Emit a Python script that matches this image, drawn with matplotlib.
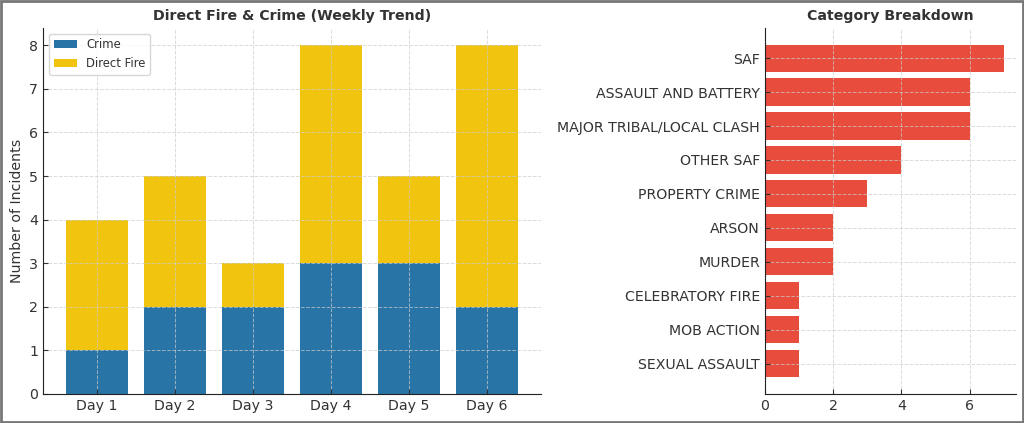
import matplotlib
matplotlib.use("Agg")
import matplotlib.pyplot as plt
from matplotlib.patches import Rectangle

days = ["Day 1", "Day 2", "Day 3", "Day 4", "Day 5", "Day 6"]
crime = [1, 2, 2, 3, 3, 2]
direct_fire = [3, 3, 1, 5, 2, 6]

categories = ["SAF", "ASSAULT AND BATTERY", "MAJOR TRIBAL/LOCAL CLASH", "OTHER SAF",
              "PROPERTY CRIME", "ARSON", "MURDER", "CELEBRATORY FIRE", "MOB ACTION",
              "SEXUAL ASSAULT"]
counts = [7, 6, 6, 4, 3, 2, 2, 1, 1, 1]

TXT = "#333333"
FS = 10.2
plt.rcParams.update({
    "font.family": "DejaVu Sans",
    "text.color": TXT,
    "axes.labelcolor": TXT,
    "xtick.color": TXT,
    "ytick.color": TXT,
    "xtick.direction": "in",
    "ytick.direction": "in",
    "axes.edgecolor": "#222222",
})

fig = plt.figure(figsize=(10.24, 4.23), dpi=100)
fig.patches.append(Rectangle((0.001, 0.002), 0.998, 0.996, transform=fig.transFigure,
                             fill=False, edgecolor="#777777", linewidth=2))

ax1 = fig.add_axes([0.042, 0.069, 0.486, 0.865])
x = list(range(len(days)))
ax1.bar(x, crime, width=0.8, color="#2874a6", label="Crime")
ax1.bar(x, direct_fire, width=0.8, bottom=crime, color="#f1c40f", label="Direct Fire")
ax1.set_xticks(x)
ax1.set_xticklabels(days, fontsize=FS)
ax1.tick_params(axis="y", labelsize=FS)
ax1.set_ylabel("Number of Incidents", fontsize=FS)
ax1.set_title("Direct Fire & Crime (Weekly Trend)", fontsize=FS, fontweight="bold", color=TXT)
ax1.set_axisbelow("line")
ax1.grid(True, linestyle="--", color="#cccccc", linewidth=0.7, alpha=0.7)
for s in ["top", "right"]:
    ax1.spines[s].set_visible(False)
ax1.legend(loc="upper left", fontsize=8.4, framealpha=0.8)

ax2 = fig.add_axes([0.747, 0.069, 0.245, 0.865])
y = list(range(len(categories)))
ax2.barh(y, counts, height=0.8, color="#e74c3c")
ax2.set_yticks(y)
ax2.set_yticklabels(categories, fontsize=FS)
ax2.invert_yaxis()
ax2.set_xticks([0, 2, 4, 6])
ax2.tick_params(axis="x", labelsize=FS)
ax2.set_title("Category Breakdown", fontsize=FS, fontweight="bold", color=TXT)
ax2.set_axisbelow("line")
ax2.grid(True, linestyle="--", color="#cccccc", linewidth=0.7, alpha=0.7)
for s in ["top", "right"]:
    ax2.spines[s].set_visible(False)

fig.savefig("out.png", dpi=100)
